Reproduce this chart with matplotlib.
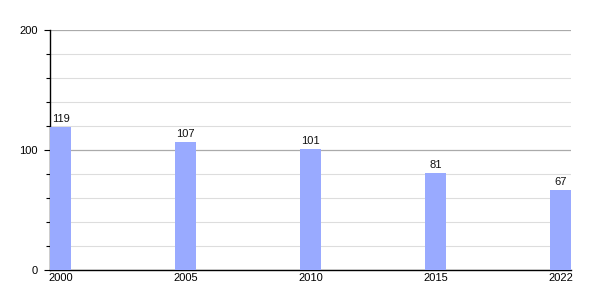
import matplotlib
matplotlib.use("Agg")
import matplotlib.pyplot as plt
from matplotlib.ticker import MultipleLocator

plt.rcParams["font.family"] = ["Liberation Sans", "DejaVu Sans"]

years = ["2000", "2005", "2010", "2015", "2022"]
values = [119, 107, 101, 81, 67]

fig = plt.figure(figsize=(6, 3), dpi=100)
ax = fig.add_axes([50 / 600, 30 / 300, 521 / 600, 240 / 300])

x = range(len(years))
bars = ax.bar(x, values, width=0.165, color="#99aaff", zorder=3)

for xi, v in zip(x, values):
    ax.annotate(str(v), (xi, v), xytext=(0, 2), textcoords="offset points",
                ha="center", va="bottom", fontsize=8, color="#111111")

ax.set_xlim(-0.085, 4.085)
ax.set_ylim(0, 200)
ax.set_xticks(list(x))
ax.set_xticklabels(years, fontsize=8)
ax.yaxis.set_major_locator(MultipleLocator(100))
ax.yaxis.set_minor_locator(MultipleLocator(20))
ax.tick_params(axis="y", labelsize=8, length=4, width=0.8, pad=5)
ax.tick_params(axis="y", which="minor", length=3, width=0.8)
ax.tick_params(axis="x", length=0, pad=2)

ax.grid(axis="y", which="major", color="#aaaaaa", linewidth=0.9, zorder=1)
ax.grid(axis="y", which="minor", color="#dddddd", linewidth=0.8, zorder=1)

for s in ["top", "right"]:
    ax.spines[s].set_visible(False)
ax.spines["left"].set_linewidth(1.0)
ax.spines["bottom"].set_linewidth(1.0)
ax.set_axisbelow(True)

fig.savefig("out.png", dpi=100)
